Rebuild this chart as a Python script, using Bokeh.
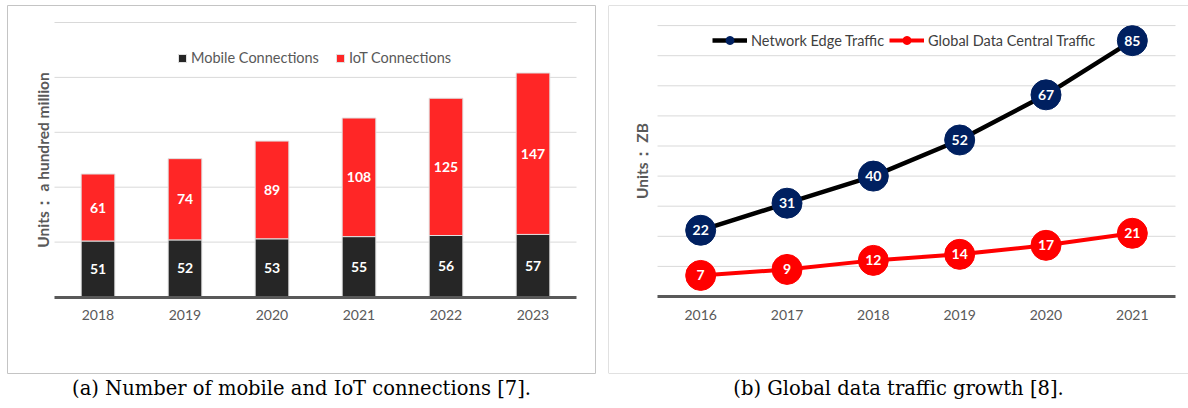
import numpy as np
from bokeh.plotting import figure
from bokeh.models import (ColumnDataSource, LinearAxis, FixedTicker, Range1d,
                          Legend, LegendItem, Title, Span)
from bokeh.layouts import row
from bokeh.embed import file_html
from bokeh.resources import INLINE
from bokeh.core.properties import value

# ---------------- data ----------------
years_a = ["2018", "2019", "2020", "2021", "2022", "2023"]
mobile = [51, 52, 53, 55, 56, 57]
iot = [61, 74, 89, 108, 125, 147]
grid_a = [50, 100, 150, 200, 250]

years_b = ["2016", "2017", "2018", "2019", "2020", "2021"]
edge = [22, 31, 40, 52, 67, 85]
central = [7, 9, 12, 14, 17, 21]
grid_b = [10, 20, 30, 40, 50, 60, 70, 80, 90]

caption_a = "(a) Number of mobile and IoT connections [7]."
caption_b = "(b) Global data traffic growth [8]."
ylabel_a = "Units\uff1a a hundred million"
ylabel_b = "Units\uff1a ZB"

FONT = "Lato"
CAP_FONT = "DejaVu Serif"
GRAY_TXT = "#595959"
GRID_C = "#d9d9d9"
BOX_C = "#c4c4c4"
BLACK_BAR = "#262626"
RED_BAR = "#ff2626"
NAVY = "#002060"
RED = "#ff0000"

TOP = 5       # frame top (px) - both plots in the row share it
BOTTOM = 35   # space under the box for the caption


def base_axis_x(p, n, labels, bound_hi, standoff):
    ticks = [i + 0.5 for i in range(n)]
    ax = LinearAxis(fixed_location=0, bounds=(0, bound_hi),
                    ticker=FixedTicker(ticks=ticks),
                    major_label_overrides={t: lab for t, lab in zip(ticks, labels)},
                    axis_line_color=GRAY_TXT, axis_line_width=3,
                    major_tick_line_color=None, minor_tick_line_color=None,
                    major_tick_in=0, major_tick_out=0,
                    major_label_standoff=standoff,
                    major_label_text_font=FONT, major_label_text_font_size="14px",
                    major_label_text_color=GRAY_TXT)
    p.add_layout(ax, "below")


def base_axis_y(p, label, top, standoff):
    ax = LinearAxis(fixed_location=0, bounds=(0, top),
                    ticker=FixedTicker(ticks=[]),
                    axis_line_color=None, major_tick_line_color=None,
                    minor_tick_line_color=None,
                    axis_label=label, axis_label_standoff=standoff,
                    axis_label_text_font=FONT, axis_label_text_font_size="15.5px",
                    axis_label_text_font_style="bold",
                    axis_label_text_color=GRAY_TXT)
    p.add_layout(ax, "left")


def caption(p, text):
    t = Title(text=text, align="center", text_font=CAP_FONT, text_font_size="19.5px",
              text_font_style="normal", text_color="#000000", standoff=3)
    p.add_layout(t, "below")


# ---------------- panel (a) ----------------
n_a = len(years_a)
xa = [i + 0.5 for i in range(n_a)]
src_a = ColumnDataSource(dict(
    x=xa, mobile=mobile, iot=iot,
    ym=[m / 2 for m in mobile], tm=[str(m) for m in mobile],
    yi=[m + v / 2 for m, v in zip(mobile, iot)], ti=[str(v) for v in iot]))

pxa = 87.0    # px per category
pya = 1.098   # px per unit
base_a = 296.5
frame_bot = 408 - BOTTOM
p1 = figure(width=600, height=408, title=None,
            x_range=Range1d(-47 / pxa, n_a + 19 / pxa),
            y_range=Range1d(-(frame_bot - base_a) / pya, (base_a - TOP) / pya),
            x_axis_location=None, y_axis_location=None,
            toolbar_location=None, output_backend="svg",
            min_border_left=7, min_border_right=5, min_border_top=TOP, min_border_bottom=BOTTOM,
            outline_line_color=BOX_C, outline_line_width=1,
            background_fill_color="white", border_fill_color="white")
p1.grid.visible = False

p1.segment(x0=[0] * len(grid_a), x1=[n_a] * len(grid_a), y0=grid_a, y1=grid_a,
           line_color=GRID_C, line_width=1)

bars = p1.vbar_stack(["mobile", "iot"], x="x", width=0.387, source=src_a,
                     fill_color=[BLACK_BAR, RED_BAR], line_color="#e0e0e0", line_width=1)

p1.text(x="x", y="ym", text="tm", source=src_a, text_color="white",
        text_font=value(FONT), text_font_style="bold", text_font_size="14px",
        text_align="center", text_baseline="middle")
p1.text(x="x", y="yi", text="ti", source=src_a, text_color="white",
        text_font=value(FONT), text_font_style="bold", text_font_size="14px",
        text_align="center", text_baseline="middle")

base_axis_x(p1, n_a, years_a, n_a, 13)
base_axis_y(p1, ylabel_a, grid_a[-1], 3)

leg_a = Legend(items=[LegendItem(label="Mobile Connections", renderers=[bars[0]]),
                      LegendItem(label="IoT Connections", renderers=[bars[1]])],
               orientation="horizontal", location=(170, 307),
               border_line_color=None, background_fill_alpha=0,
               padding=0, margin=0, spacing=16,
               glyph_width=10, glyph_height=10, label_height=10, label_standoff=4,
               label_text_font=FONT, label_text_font_size="14.5px",
               label_text_color=GRAY_TXT)
p1.add_layout(leg_a)
caption(p1, caption_a)

# ---------------- panel (b) ----------------
n_b = len(years_b)
xb = [i + 0.5 for i in range(n_b)]
src_b = ColumnDataSource(dict(x=xb, edge=edge, central=central,
                              te=[str(v) for v in edge], tc=[str(v) for v in central]))

pxb = 86.3
pyb = 3.01
base_b = 296.0
p2 = figure(width=588, height=408, title=None,
            x_range=Range1d(-49 / pxb, n_b + 13 / pxb),
            y_range=Range1d(-(frame_bot - base_b) / pyb, (base_b - TOP) / pyb),
            x_axis_location=None, y_axis_location=None,
            toolbar_location=None, output_backend="svg",
            min_border_left=8, min_border_right=0, min_border_top=TOP, min_border_bottom=BOTTOM,
            outline_line_color=None,
            background_fill_color="white", border_fill_color="white")
p2.grid.visible = False

# box edges (left, top, bottom); the right edge lies outside the view
p2.add_layout(Span(location=p2.x_range.start, dimension="height", line_color=BOX_C, line_width=1))
p2.add_layout(Span(location=p2.y_range.end, dimension="width", line_color=BOX_C, line_width=1))
p2.add_layout(Span(location=p2.y_range.start, dimension="width", line_color=BOX_C, line_width=1))

p2.segment(x0=[0] * len(grid_b), x1=[n_b] * len(grid_b), y0=grid_b, y1=grid_b,
           line_color=GRID_C, line_width=1)

l_e = p2.line(x="x", y="edge", source=src_b, line_color="black", line_width=4.5)
l_c = p2.line(x="x", y="central", source=src_b, line_color=RED, line_width=4)
s_e = p2.scatter(x="x", y="edge", source=src_b, size=30, fill_color=NAVY, line_color=NAVY)
s_c = p2.scatter(x="x", y="central", source=src_b, size=30, fill_color=RED, line_color=RED)

p2.text(x="x", y="edge", text="te", source=src_b, text_color="white",
        text_font=value(FONT), text_font_style="bold", text_font_size="14px",
        text_align="center", text_baseline="middle")
p2.text(x="x", y="central", text="tc", source=src_b, text_color="white",
        text_font=value(FONT), text_font_style="bold", text_font_size="14px",
        text_align="center", text_baseline="middle")

base_axis_x(p2, n_b, years_b, n_b, 13)
base_axis_y(p2, ylabel_b, grid_b[-1], 7)

leg_b = Legend(items=[LegendItem(label="Network Edge Traffic", renderers=[l_e, s_e]),
                      LegendItem(label="Global Data Central Traffic", renderers=[l_c, s_c])],
               orientation="horizontal", location=(104, 323),
               border_line_color=None, background_fill_alpha=0,
               padding=0, margin=0, spacing=5,
               glyph_width=35, glyph_height=20, label_height=20, label_standoff=4,
               label_text_font=FONT, label_text_font_size="14.5px",
               label_text_color="#404040")
p2.add_layout(leg_b)
caption(p2, caption_b)

layout = row(p1, p2, spacing=0)
open("out.html", "w").write(file_html(layout, INLINE))
